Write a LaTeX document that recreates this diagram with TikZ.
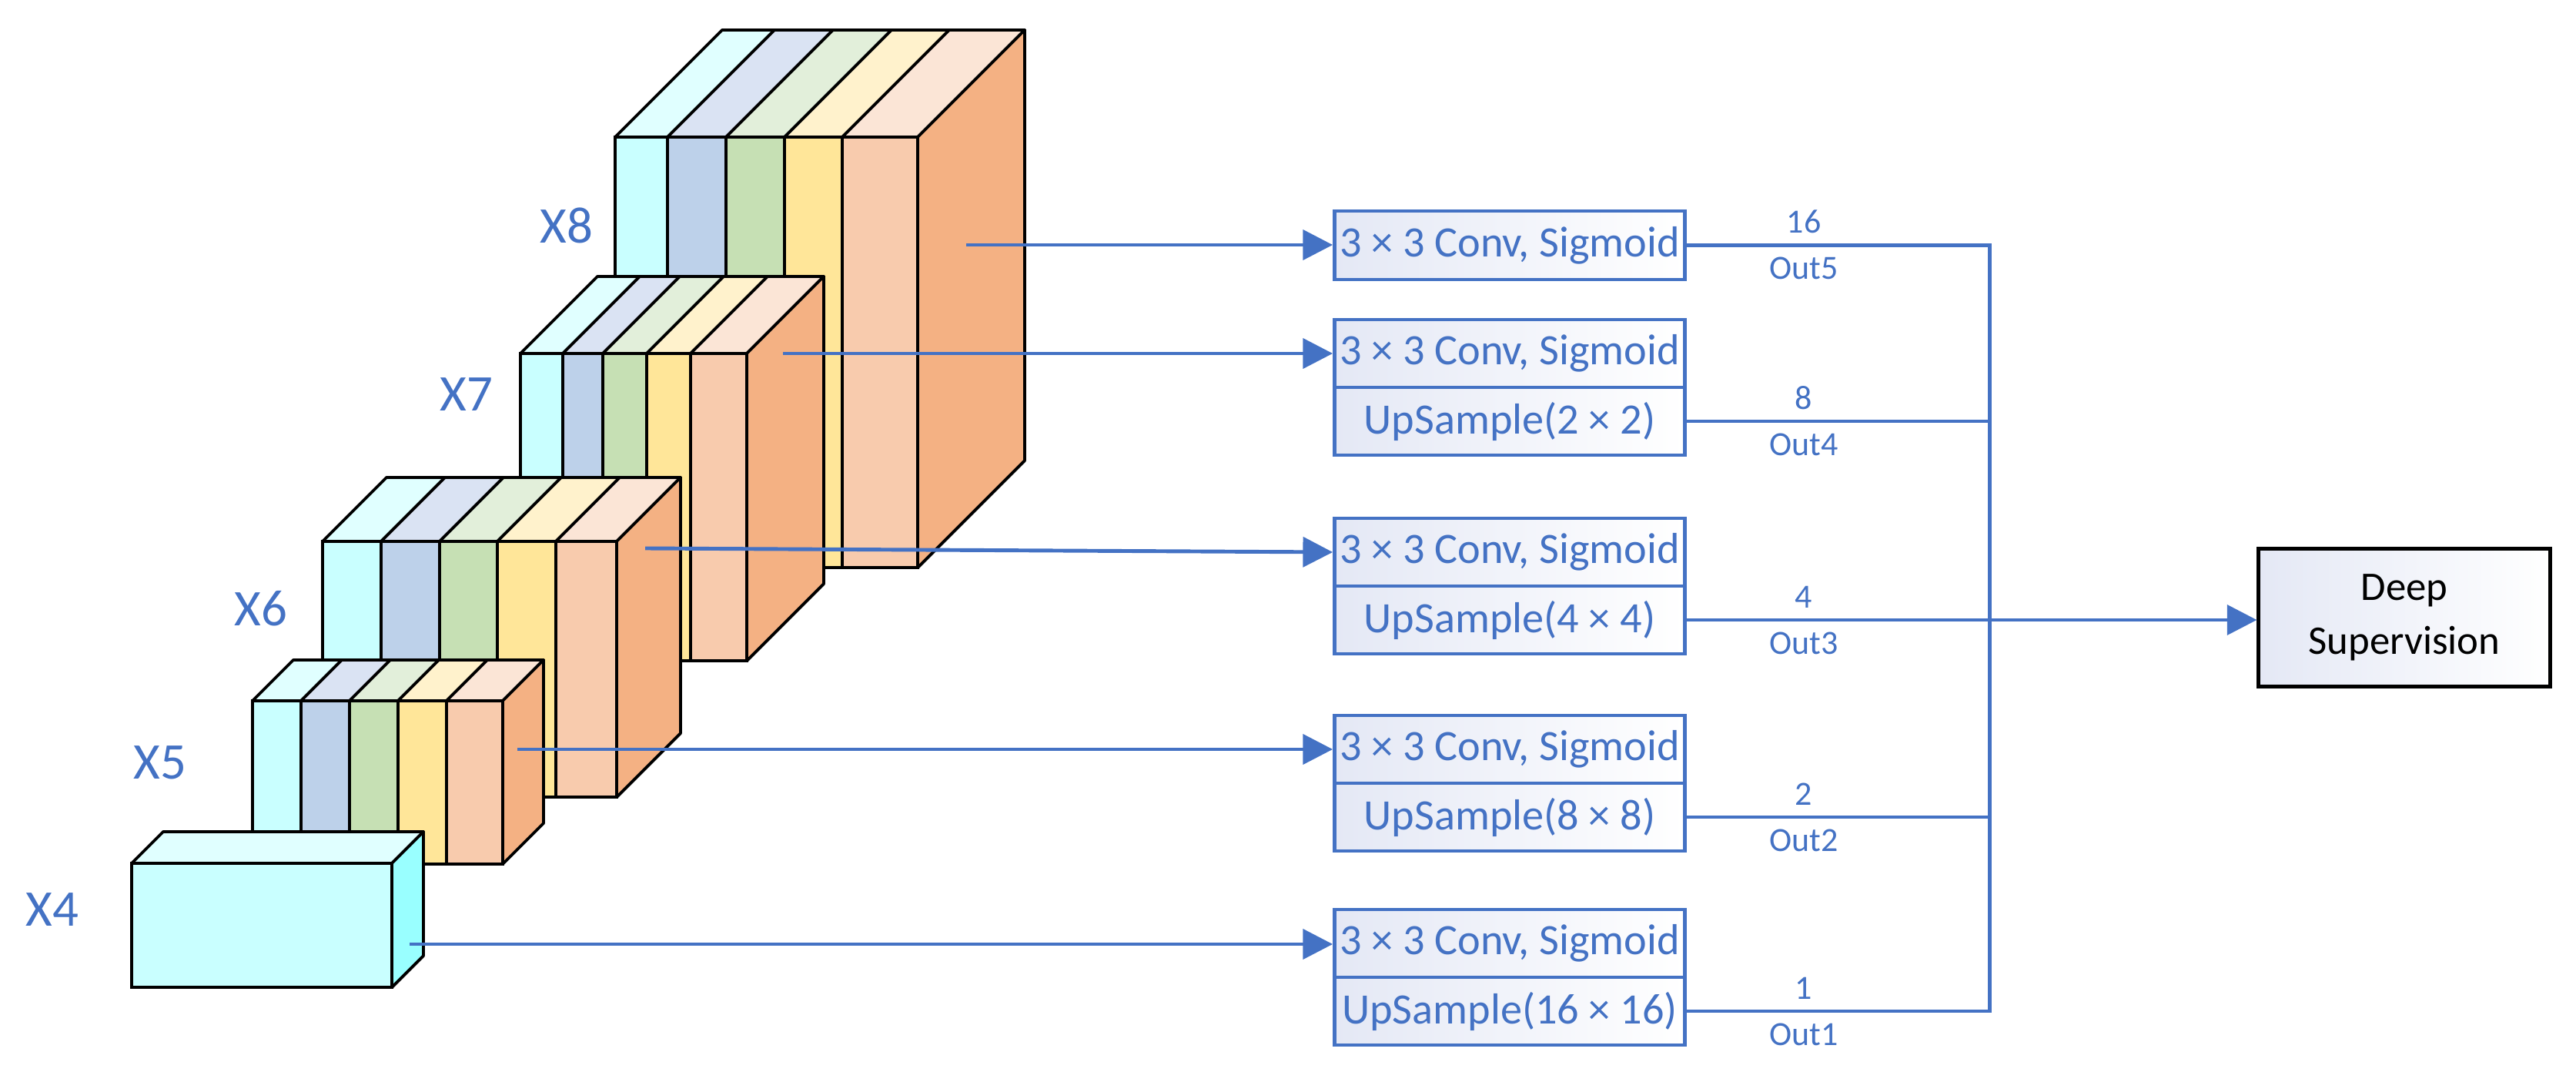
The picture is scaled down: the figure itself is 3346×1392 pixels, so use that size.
\documentclass[tikz,border=0pt]{standalone}
\usepackage{fontspec}
\setmainfont{Carlito}
\usetikzlibrary{arrows.meta,shadings}
\definecolor{cyF}{HTML}{C9FFFF}\definecolor{cyT}{HTML}{E0FFFF}\definecolor{cyS}{HTML}{99FFFF}
\definecolor{blF}{HTML}{BDD1EA}\definecolor{blT}{HTML}{DAE3F3}
\definecolor{grF}{HTML}{C6E0B4}\definecolor{grT}{HTML}{E2EFDA}
\definecolor{yeF}{HTML}{FFE699}\definecolor{yeT}{HTML}{FFF2CC}
\definecolor{peF}{HTML}{F8CBAD}\definecolor{peT}{HTML}{FBE5D6}
\definecolor{sdO}{HTML}{F4B183}
\definecolor{bl}{HTML}{4472C4}
\definecolor{bxT}{HTML}{E4E8F5}
\newcommand\mystripe[7]{%
  \fill[#6,draw=black,line width=1.1pt] (#1,#3) rectangle (#2,#4);
  \fill[#7,draw=black,line width=1.1pt,line join=round] (#1,#3) -- ++(#5,-#5) -- (#2+#5,#3-#5) -- (#2,#3) -- cycle;}
\newcommand\myside[5]{%
  \fill[#5,draw=black,line width=1.1pt,line join=round] (#1,#2) -- ++(#4,-#4) -- (#1+#4,#3-#4) -- (#1,#3) -- cycle;}
\begin{document}
\begin{tikzpicture}[x=0.01cm,y=-0.01cm,
  lbl/.style={text=bl,font=\fontsize{19}{19}\selectfont},
  box/.style={draw=bl,line width=1.3pt,minimum width=4.55cm,minimum height=0.88cm,inner sep=0pt,
    shading=axis,shading angle=135,left color=bxT,right color=white,font=\fontsize{16}{16}\selectfont,text=bl},
  con/.style={draw=bl,line width=1.4pt},
  arr/.style={con,-{Triangle[length=11pt,width=11pt]}},
  num/.style={text=bl,font=\fontsize{12.5}{12.5}\selectfont}]
\useasboundingbox (0,0) rectangle (3346,1392);
% X8
\mystripe{799}{867}{178}{737}{139}{cyF}{cyT}
\mystripe{867}{943}{178}{737}{139}{blF}{blT}
\mystripe{943}{1019}{178}{737}{139}{grF}{grT}
\mystripe{1019}{1094}{178}{737}{139}{yeF}{yeT}
\mystripe{1094}{1192}{178}{737}{139}{peF}{peT}
\myside{1192}{178}{737}{139}{sdO}
% X7
\mystripe{676}{731}{459}{858}{100}{cyF}{cyT}
\mystripe{731}{783}{459}{858}{100}{blF}{blT}
\mystripe{783}{840}{459}{858}{100}{grF}{grT}
\mystripe{840}{897}{459}{858}{100}{yeF}{yeT}
\mystripe{897}{970}{459}{858}{100}{peF}{peT}
\myside{970}{459}{858}{100}{sdO}
% X6
\mystripe{419}{495}{703}{1035}{83}{cyF}{cyT}
\mystripe{495}{571}{703}{1035}{83}{blF}{blT}
\mystripe{571}{646}{703}{1035}{83}{grF}{grT}
\mystripe{646}{722}{703}{1035}{83}{yeF}{yeT}
\mystripe{722}{801}{703}{1035}{83}{peF}{peT}
\myside{801}{703}{1035}{83}{sdO}
% X5
\mystripe{328}{391}{910}{1122}{53}{cyF}{cyT}
\mystripe{391}{454}{910}{1122}{53}{blF}{blT}
\mystripe{454}{517}{910}{1122}{53}{grF}{grT}
\mystripe{517}{580}{910}{1122}{53}{yeF}{yeT}
\mystripe{580}{653}{910}{1122}{53}{peF}{peT}
\myside{653}{910}{1122}{53}{sdO}
% X4
\mystripe{171}{509}{1121}{1282}{41}{cyF}{cyT}
\myside{509}{1121}{1282}{41}{cyS}
% labels
\node[lbl] (l8) at (736,293) {X8};
\node[lbl] (l7) at (606,512) {X7};
\node[lbl] (l6) at (339,790) {X6};
\node[lbl] (l5) at (208,990) {X5};
\node[lbl] (l4) at (68,1181) {X4};
% arrow starts
\coordinate (s8) at (1255,318);
\coordinate (s7) at (1017,459);
\coordinate (s6) at (838,712);
\coordinate (s5) at (672,973);
\coordinate (s4) at (532,1226);
% boxes
\node[box,minimum height=0.89cm] (c1) at (1961,318.5) {3 × 3 Conv, Sigmoid};
\node[box] (c2) at (1961,459) {3 × 3 Conv, Sigmoid};
\node[box] (u2) at (1961,547) {UpSample(2 × 2)};
\node[box] (c3) at (1961,717) {3 × 3 Conv, Sigmoid};
\node[box] (u3) at (1961,805) {UpSample(4 × 4)};
\node[box] (c4) at (1961,973) {3 × 3 Conv, Sigmoid};
\node[box] (u4) at (1961,1061) {UpSample(8 × 8)};
\node[box] (c5) at (1961,1225) {3 × 3 Conv, Sigmoid};
\node[box] (u5) at (1961,1313) {UpSample(16 × 16)};
\node[draw=black,line width=1.4pt,minimum width=3.78cm,minimum height=1.78cm,shading=axis,shading angle=135,left color=bxT,right color=white,
  align=center,font=\fontsize{15}{20}\selectfont] (ds) at (3123,802) {Deep\\Supervision};
\draw[arr] (s8) -- (c1.west |- s8);
\draw[arr] (s7) -- (c2.west);
\draw[arr] (s6) -- (c3.west);
\draw[arr] (s5) -- (c4.west);
\draw[arr] (s4) -- (c5.west |- s4);
% outputs
\coordinate (v1) at (2584,318.5);
\coordinate (v5) at (2584,1313);
\draw[con] (c1.east) -- (v1) -- (v5) -- (u5.east);
\draw[con] (u2.east) -- (u2.east -| v1);
\draw[con] (u4.east) -- (u4.east -| v1);
\draw[arr] (u3.east) -- (ds.west |- u3.east);
\node[num] at (2343,288) {16}; \node[num] at (2343,348) {Out5};
\node[num] at (2343,517) {8}; \node[num] at (2343,577) {Out4};
\node[num] at (2343,775) {4}; \node[num] at (2343,835) {Out3};
\node[num] at (2343,1031) {2}; \node[num] at (2343,1091) {Out2};
\node[num] at (2343,1283) {1}; \node[num] at (2343,1343) {Out1};
\end{tikzpicture}
\end{document}
